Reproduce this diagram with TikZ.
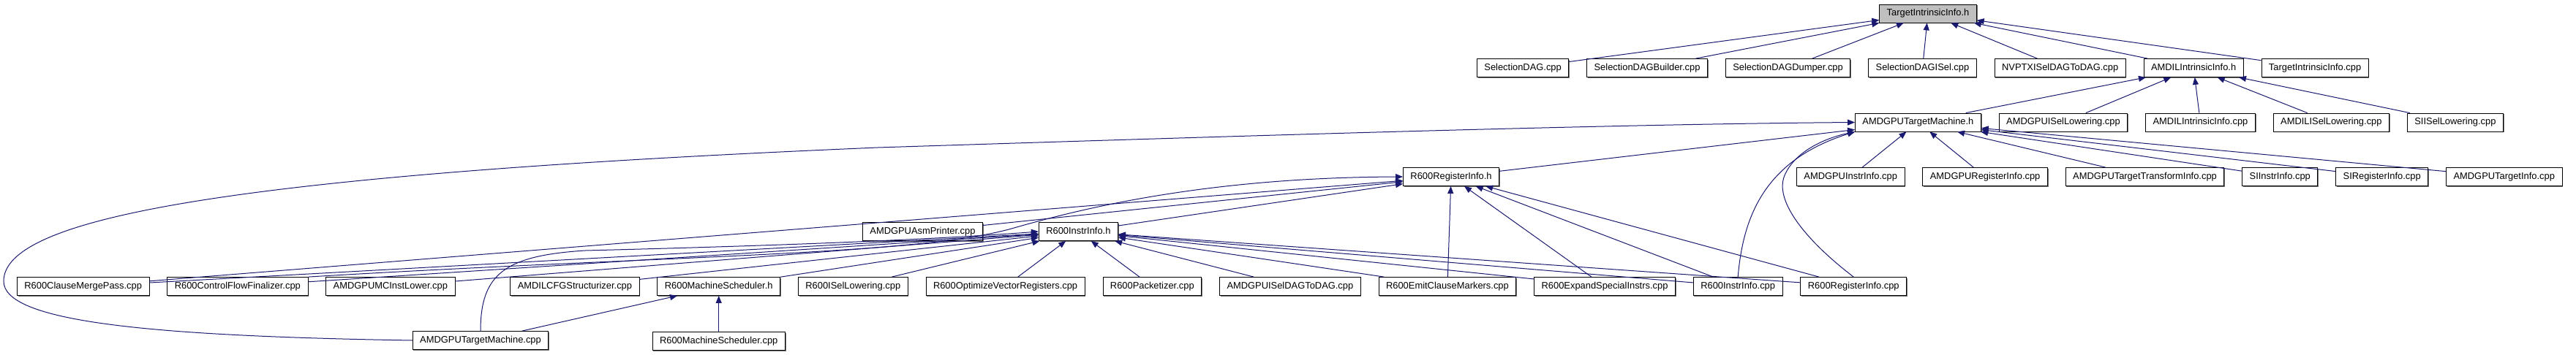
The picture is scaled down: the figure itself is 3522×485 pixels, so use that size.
\documentclass[tikz,border=0pt]{standalone}
\usepackage{fontspec}
\setmainfont{Liberation Sans}
\usetikzlibrary{positioning,arrows.meta,shadows}
\definecolor{edgeblue}{HTML}{191970}
\definecolor{focusgray}{HTML}{BFBFBF}

\begin{document}
\begin{tikzpicture}[
    x=1pt, y=-1pt,
    node distance=24pt,
    file/.style={draw, fill=white, line width=0.8pt, inner xsep=10pt, inner ysep=0pt, minimum height=25pt, text height=9.4pt, text depth=2.6pt, font=\fontsize{12.9}{15}\selectfont, drop shadow={shadow xshift=1.2pt, shadow yshift=-1.2pt, fill=black!55, opacity=1}},
    focus/.style={file, fill=focusgray},
    dep/.style={draw=edgeblue, line width=1pt, -{Triangle[length=10pt,width=8pt]}}
]
\useasboundingbox (0,0) rectangle (3522,485);

\node[focus] (tii_h) at (2636,18.5) {TargetIntrinsicInfo.h};

\node[file, anchor=west] (seldag) at (2019,93) {SelectionDAG.cpp};
\node[file, right=of seldag] (seldagbuilder) {SelectionDAGBuilder.cpp};
\node[file, right=of seldagbuilder] (seldagdumper) {SelectionDAGDumper.cpp};
\node[file, right=of seldagdumper] (seldagisel) {SelectionDAGISel.cpp};
\node[file, right=of seldagisel] (nvptx) {NVPTXISelDAGToDAG.cpp};
\node[file, right=of nvptx] (amdilintr_h) {AMDILIntrinsicInfo.h};
\node[file, right=of amdilintr_h] (tii_cpp) {TargetIntrinsicInfo.cpp};

\node[file, anchor=west] (amdgputm_h) at (2536,167.5) {AMDGPUTargetMachine.h};
\node[file, right=of amdgputm_h] (amdgpuisellow) {AMDGPUISelLowering.cpp};
\node[file, right=of amdgpuisellow] (amdilintr_cpp) {AMDILIntrinsicInfo.cpp};
\node[file, right=of amdilintr_cpp] (amdilisellow) {AMDILISelLowering.cpp};
\node[file, right=of amdilisellow] (siisellow) {SIISelLowering.cpp};

\node[file] (r600reginfo_h) at (1984,242) {R600RegisterInfo.h};
\node[file, anchor=west] (amdgpuinstrinfo) at (2456,242) {AMDGPUInstrInfo.cpp};
\node[file, right=of amdgpuinstrinfo] (amdgpureginfo) {AMDGPURegisterInfo.cpp};
\node[file, right=of amdgpureginfo] (amdgputti) {AMDGPUTargetTransformInfo.cpp};
\node[file, right=of amdgputti] (siinstrinfo) {SIInstrInfo.cpp};
\node[file, right=of siinstrinfo] (sireginfo) {SIRegisterInfo.cpp};
\node[file, right=of sireginfo] (amdgputargetinfo) {AMDGPUTargetInfo.cpp};

\node[file, anchor=west] (asmprinter) at (1179,317) {AMDGPUAsmPrinter.cpp};
\node[file, right=76pt of asmprinter] (r600instrinfo_h) {R600InstrInfo.h};

\node[file, anchor=west] (clausemerge) at (23,392) {R600ClauseMergePass.cpp};
\node[file, right=of clausemerge] (cff) {R600ControlFlowFinalizer.cpp};
\node[file, right=of cff] (mcinstlower) {AMDGPUMCInstLower.cpp};
\node[file, right=75pt of mcinstlower] (amdilcfg) {AMDILCFGStructurizer.cpp};
\node[file, right=of amdilcfg] (machsched_h) {R600MachineScheduler.h};
\node[file, right=of machsched_h] (r600isellow) {R600ISelLowering.cpp};
\node[file, right=of r600isellow] (optvec) {R600OptimizeVectorRegisters.cpp};
\node[file, right=of optvec] (packetizer) {R600Packetizer.cpp};
\node[file, right=of packetizer] (amdgpuiseldag) {AMDGPUISelDAGToDAG.cpp};
\node[file, right=of amdgpuiseldag] (emitclause) {R600EmitClauseMarkers.cpp};
\node[file, right=of emitclause] (expand) {R600ExpandSpecialInstrs.cpp};
\node[file, right=of expand] (r600instrinfo_cpp) {R600InstrInfo.cpp};
\node[file, right=of r600instrinfo_cpp] (r600reginfo_cpp) {R600RegisterInfo.cpp};

\node[file] (amdgputm_cpp) at (657,466) {AMDGPUTargetMachine.cpp};
\node[file, below=49pt of machsched_h] (machsched_cpp) {R600MachineScheduler.cpp};

\draw[dep] (seldag) -- (tii_h);
\draw[dep] (seldagbuilder) -- (tii_h);
\draw[dep] (seldagdumper) -- (tii_h);
\draw[dep] (seldagisel) -- (tii_h);
\draw[dep] (nvptx) -- (tii_h);
\draw[dep] (amdilintr_h) -- (tii_h);
\draw[dep] (tii_cpp) -- (tii_h);

\draw[dep] (amdgputm_h) -- (amdilintr_h);
\draw[dep] (amdgpuisellow) -- (amdilintr_h);
\draw[dep] (amdilintr_cpp) -- (amdilintr_h);
\draw[dep] (amdilisellow) -- (amdilintr_h);
\draw[dep] (siisellow) -- (amdilintr_h);

\draw[dep] (r600reginfo_h) -- (amdgputm_h);
\draw[dep] (amdgpuinstrinfo) -- (amdgputm_h);
\draw[dep] (amdgpureginfo) -- (amdgputm_h);
\draw[dep] (amdgputti) -- (amdgputm_h);
\draw[dep] (siinstrinfo) -- (amdgputm_h);
\draw[dep] (sireginfo) -- (amdgputm_h);
\draw[dep] (amdgputargetinfo) -- (amdgputm_h);
\draw[dep] (amdgputm_cpp.west) .. controls (200,460) and (5,440) .. (5,385) .. controls (5,300) and (300,240) .. (1200,202) .. controls (1700,186) and (2200,170) .. (amdgputm_h.west);
\draw[dep] (r600instrinfo_cpp.north) .. controls (2383,300) and (2410,220) .. (amdgputm_h.south west);
\draw[dep] (r600reginfo_cpp.north) .. controls (2470,330) and (2425,275) .. (2440,240) .. controls (2455,205) and (2500,188) .. (amdgputm_h.south west);

\draw[dep] (clausemerge) -- (r600reginfo_h);
\draw[dep] (asmprinter) -- (r600reginfo_h);
\draw[dep] (r600instrinfo_h) -- (r600reginfo_h);
\draw[dep] (emitclause) -- (r600reginfo_h);
\draw[dep] (expand) -- (r600reginfo_h);
\draw[dep] (r600instrinfo_cpp) -- (r600reginfo_h);
\draw[dep] (r600reginfo_cpp) -- (r600reginfo_h);
\draw[dep] (cff.north east) .. controls (900,350) and (1250,350) .. (1383,313) .. controls (1480,285) and (1650,243) .. (r600reginfo_h.west);

\draw[dep] (clausemerge) -- (r600instrinfo_h);
\draw[dep] (cff) -- (r600instrinfo_h);
\draw[dep] (mcinstlower) -- (r600instrinfo_h);
\draw[dep] (amdilcfg) -- (r600instrinfo_h);
\draw[dep] (machsched_h) -- (r600instrinfo_h);
\draw[dep] (r600isellow) -- (r600instrinfo_h);
\draw[dep] (optvec) -- (r600instrinfo_h);
\draw[dep] (packetizer) -- (r600instrinfo_h);
\draw[dep] (amdgpuiseldag) -- (r600instrinfo_h);
\draw[dep] (emitclause) -- (r600instrinfo_h);
\draw[dep] (expand) -- (r600instrinfo_h);
\draw[dep] (r600instrinfo_cpp) -- (r600instrinfo_h);
\draw[dep] (r600reginfo_cpp) -- (r600instrinfo_h);
\draw[dep] (amdgputm_cpp.north) .. controls (657,375) and (690,350) .. (800,343) .. controls (1000,338) and (1250,330) .. (r600instrinfo_h.west);

\draw[dep] (amdgputm_cpp) -- (machsched_h);
\draw[dep] (machsched_cpp) -- (machsched_h);

\end{tikzpicture}
\end{document}
